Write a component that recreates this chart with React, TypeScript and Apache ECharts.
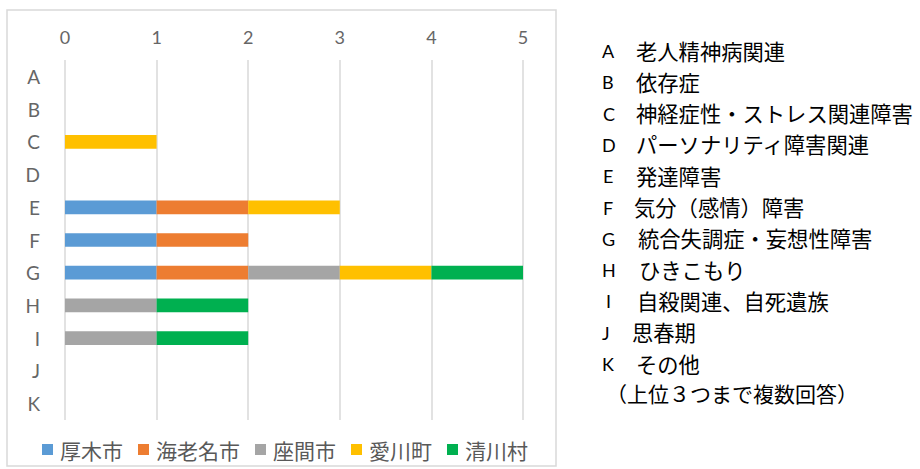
import React, { useEffect, useRef } from "react";
import * as echarts from "echarts";

const categories = ["A", "B", "C", "D", "E", "F", "G", "H", "I", "J", "K"];
const seriesNames = ["厚木市", "海老名市", "座間市", "愛川町", "清川村"];
const atsugi = [0, 0, 0, 0, 1, 1, 1, 0, 0, 0, 0];
const ebina = [0, 0, 0, 0, 1, 1, 1, 0, 0, 0, 0];
const zama = [0, 0, 0, 0, 0, 0, 1, 1, 1, 0, 0];
const aikawa = [0, 0, 1, 0, 1, 0, 1, 0, 0, 0, 0];
const kiyokawa = [0, 0, 0, 0, 0, 0, 1, 1, 1, 0, 0];
const colors = ["#5B9BD5", "#ED7D31", "#A5A5A5", "#FFC000", "#00B050"];
const xTicks = [0, 1, 2, 3, 4, 5];

const noteLetters = ["A", "B", "C", "D", "E", "F", "G", "H", "I", "J", "K"];
const noteTexts = [
  "老人精神病関連",
  "依存症",
  "神経症性・ストレス関連障害",
  "パーソナリティ障害関連",
  "発達障害",
  "気分（感情）障害",
  "統合失調症・妄想性障害",
  "ひきこもり",
  "自殺関連、自死遺族",
  "思春期",
  "その他",
];
const noteFooter = "（上位３つまで複数回答）";

export default function App() {
  const ref = useRef<HTMLDivElement>(null);
  useEffect(() => {
    if (!ref.current) return;
    const chart = echarts.init(ref.current, null, { renderer: "svg" });
    const dataSets = [atsugi, ebina, zama, aikawa, kiyokawa];
    const letterX = [602, 602, 603, 602, 603, 603, 602, 602, 606, 602, 602];
    const textX = [636, 636, 636, 636, 636, 634, 638, 639, 637, 632, 636];
    const cjk = "Noto Sans CJK JP";
    const graphics: any[] = [
      {
        type: "rect",
        shape: { x: 7, y: 10, width: 549, height: 456 },
        style: { fill: "none", stroke: "#d9d9d9", lineWidth: 1.5 },
        silent: true,
      },
    ];
    noteLetters.forEach((l, i) => {
      const y = 50 + i * 31.3;
      graphics.push({
        type: "text",
        x: letterX[i],
        y: y + 1,
        style: { text: l, fontSize: 18, fontFamily: "Lato", fill: "#000", verticalAlign: "middle" },
      });
      graphics.push({
        type: "text",
        x: textX[i],
        y,
        style: { text: noteTexts[i], fontSize: 21.3, fontFamily: cjk, fill: "#000", verticalAlign: "middle" },
      });
    });
    graphics.push({
      type: "text",
      x: 606,
      y: 393,
      style: { text: noteFooter, fontSize: 21, fontFamily: cjk, fill: "#000", verticalAlign: "middle" },
    });

    chart.setOption({
      animation: false,
      color: colors,
      textStyle: { fontFamily: cjk },
      grid: { left: 65, right: 397, top: 60, height: 360, containLabel: false },
      legend: {
        data: seriesNames,
        left: 37,
        top: 434,
        itemWidth: 11,
        itemHeight: 11,
        itemGap: 15,
        icon: "rect",
        textStyle: { color: "#595959", fontSize: 21, padding: [0, 0, 0, 2] },
      },
      xAxis: {
        type: "value",
        position: "top",
        min: xTicks[0],
        max: xTicks[xTicks.length - 1],
        interval: 1,
        axisLine: { show: false },
        axisTick: { show: false },
        axisLabel: { color: "#666", fontSize: 18, margin: 14, fontFamily: "Lato" },
        splitLine: { lineStyle: { color: "#d9d9d9", width: 1.5 } },
      },
      yAxis: {
        type: "category",
        data: categories,
        inverse: true,
        axisLine: { show: false },
        axisTick: { show: false },
        axisLabel: { color: "#666", fontSize: 19, margin: 25, fontFamily: "Lato" },
      },
      series: seriesNames.map((name, i) => ({
        name,
        type: "bar",
        stack: "total",
        barWidth: "42%",
        data: dataSets[i],
        itemStyle: { color: colors[i] },
      })),
      graphic: graphics,
    });
    return () => chart.dispose();
  }, []);
  return (
    <div
      ref={ref}
      style={{ position: "absolute", left: 0, top: 0, width: 920, height: 469, background: "#fff" }}
    />
  );
}
